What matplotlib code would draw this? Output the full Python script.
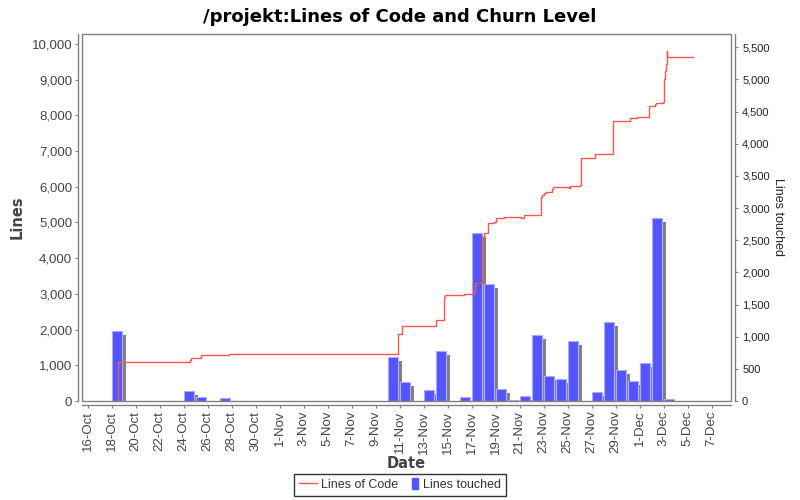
import numpy as np
import matplotlib
matplotlib.use('Agg')
import matplotlib.pyplot as plt
import matplotlib.dates as mdates
import matplotlib.patches as mpatches
import matplotlib.transforms as mtransforms
from matplotlib.lines import Line2D
from matplotlib.legend_handler import HandlerPatch
from matplotlib.ticker import FuncFormatter, MultipleLocator

# lines touched per day (right axis)
bar_days = ['2010-10-18', '2010-10-24', '2010-10-25', '2010-10-27', '2010-11-10',
            '2010-11-11', '2010-11-13', '2010-11-14', '2010-11-16', '2010-11-17',
            '2010-11-18', '2010-11-19', '2010-11-20', '2010-11-21', '2010-11-22',
            '2010-11-23', '2010-11-24', '2010-11-25', '2010-11-27', '2010-11-28',
            '2010-11-29', '2010-11-30', '2010-12-01', '2010-12-02', '2010-12-03']
touched = [1090, 156, 62, 41, 679,
           290, 171, 778, 62, 2618,
           1820, 187, 15, 73, 1026,
           394, 337, 928, 145, 1223,
           487, 306, 591, 2851, 31]

# lines of code over time (left axis, step line)
loc_times = ['2010-10-18 12:00', '2010-10-18 12:00', '2010-10-24 13:00', '2010-10-24 15:00',
             '2010-10-25 10:00', '2010-10-27 18:00', '2010-11-10 20:00', '2010-11-11 04:00',
             '2010-11-14 00:00', '2010-11-14 17:00', '2010-11-14 19:00', '2010-11-16 08:00',
             '2010-11-17 05:00', '2010-11-17 07:00', '2010-11-17 20:00', '2010-11-18 01:30',
             '2010-11-18 08:00', '2010-11-18 20:00', '2010-11-19 00:00', '2010-11-19 16:00',
             '2010-11-21 02:00', '2010-11-21 08:00', '2010-11-22 18:00', '2010-11-22 21:00',
             '2010-11-23 00:00', '2010-11-23 05:00', '2010-11-23 17:00', '2010-11-23 19:00',
             '2010-11-25 02:00', '2010-11-25 05:00', '2010-11-26 00:00', '2010-11-26 02:00',
             '2010-11-27 06:00', '2010-11-28 18:00', '2010-11-30 04:00', '2010-11-30 18:00',
             '2010-12-01 18:00', '2010-12-02 07:00', '2010-12-02 08:00', '2010-12-02 22:00',
             '2010-12-03 00:00', '2010-12-03 02:00', '2010-12-03 04:00', '2010-12-03 06:00',
             '2010-12-03 07:00', '2010-12-05 11:00']
loc_values = [0, 1084, 1148, 1195,
              1279, 1316, 1868, 2101,
              2260, 2905, 2960, 3006,
              3100, 3296, 4603, 4696,
              4977, 5014, 5117, 5145,
              5117, 5201, 5705, 5761,
              5817, 5864, 5929, 5985,
              5957, 6013, 6041, 6797,
              6919, 7834, 7918, 7946,
              8254, 8310, 8338, 8385,
              9010, 9253, 9431, 9795,
              9627, 9627]

red = '#FF5555'
blue = '#5555FF'
gray = '#808080'
txt = '#444444'
tickfont = 'Liberation Sans'

bar_x = mdates.date2num(np.array(bar_days, dtype='datetime64[m]'))
loc_x = mdates.date2num(np.array(loc_times, dtype='datetime64[m]'))

fig = plt.figure(figsize=(8, 5), dpi=100)
ax = fig.add_axes([0.1025, 0.198, 0.81125, 0.734])
ax2 = ax.twinx()

# bars on the right axis, with a drop shadow
shadow = mtransforms.offset_copy(ax2.transData, fig=fig, x=4, y=-4, units='dots')
ax2.bar(bar_x + 0.06, touched, width=0.83, align='edge', color=gray,
        linewidth=0, transform=shadow)
ax2.bar(bar_x + 0.06, touched, width=0.83, align='edge', color=blue,
        edgecolor='#AAAAFF', linewidth=0.8)

# step line on the left axis, drawn on top
ax.plot(loc_x, loc_values, drawstyle='steps-post', color=red, lw=1.0)
ax.set_zorder(ax2.get_zorder() + 1)
ax.patch.set_visible(False)
ax2.patch.set_facecolor('white')

x0 = mdates.date2num(np.datetime64('2010-10-15T12:45'))
x1 = mdates.date2num(np.datetime64('2010-12-08T15:00'))
ax.set_xlim(x0, x1)
ax.set_ylim(0, 10280)
ax2.set_ylim(0, 5707)

ticks = mdates.date2num(np.arange(np.datetime64('2010-10-16'), np.datetime64('2010-12-09'),
                                  np.timedelta64(2, 'D')))
ax.set_xticks(ticks)
ax.xaxis.set_major_formatter(FuncFormatter(
    lambda v, p: '%d-%s' % (mdates.num2date(v).day, mdates.num2date(v).strftime('%b'))))
ax.yaxis.set_major_locator(MultipleLocator(1000))
ax2.yaxis.set_major_locator(MultipleLocator(500))
fmt = FuncFormatter(lambda v, p: '{:,.0f}'.format(v))
ax.yaxis.set_major_formatter(fmt)
ax2.yaxis.set_major_formatter(fmt)

for a in (ax, ax2):
    for s in a.spines.values():
        s.set_visible(False)
ax.spines['left'].set_visible(True)
ax.spines['left'].set_position(('outward', 3))
ax.spines['bottom'].set_visible(True)
ax.spines['bottom'].set_position(('outward', 3))
ax2.spines['right'].set_visible(True)
ax2.spines['right'].set_position(('outward', 3))
for s in (ax.spines['left'], ax.spines['bottom'], ax2.spines['right']):
    s.set_color(gray)
    s.set_linewidth(1.0)
ax.add_patch(mpatches.Rectangle((0, 0), 1, 1, transform=ax.transAxes, fill=False,
                                edgecolor=gray, lw=1.0, clip_on=False, zorder=5))

ax.tick_params(axis='x', rotation=90, labelsize=9.5, labelcolor=txt, color=gray,
               length=2, direction='out', pad=2)
ax.tick_params(axis='y', labelsize=9.5, labelcolor=txt, color=gray, length=2, pad=2)
ax2.tick_params(axis='y', labelsize=8, labelcolor='#222222', color=gray, length=2, pad=3)
for lab in ax.get_xticklabels() + ax.get_yticklabels() + ax2.get_yticklabels():
    lab.set_family(tickfont)

ax.set_xlabel('Date', fontsize=10.5, fontweight='bold', color=txt, labelpad=2)
ax.set_ylabel('Lines', fontsize=10.5, fontweight='bold', color=txt, labelpad=5)
ax2.set_ylabel('Lines touched', fontsize=9, family=tickfont, color='#222222',
               rotation=270, labelpad=10)

fig.suptitle('/projekt:Lines of Code and Churn Level', fontsize=13, fontweight='bold',
             y=0.985)


def narrow_rect(legend, orig_handle, xdescent, ydescent, width, height, fontsize):
    return mpatches.Rectangle((width - 5 - xdescent, -ydescent - 1), 4, height + 2)


h1 = Line2D([], [], color=red, lw=1.0)
h2 = mpatches.Patch(color=blue)
leg = fig.legend([h1, h2], ['Lines of Code', 'Lines touched'], loc='lower center',
                 bbox_to_anchor=(0.5, -0.004), ncol=2, frameon=True,
                 prop={'family': tickfont, 'size': 9},
                 fancybox=False, edgecolor='black', handlelength=1.4,
                 handletextpad=0.3, columnspacing=0.3, borderpad=0.4,
                 handler_map={mpatches.Patch: HandlerPatch(patch_func=narrow_rect)})
leg.get_frame().set_linewidth(1.0)
for t in leg.get_texts():
    t.set_color('#333333')

fig.savefig('out.png', dpi=100)
